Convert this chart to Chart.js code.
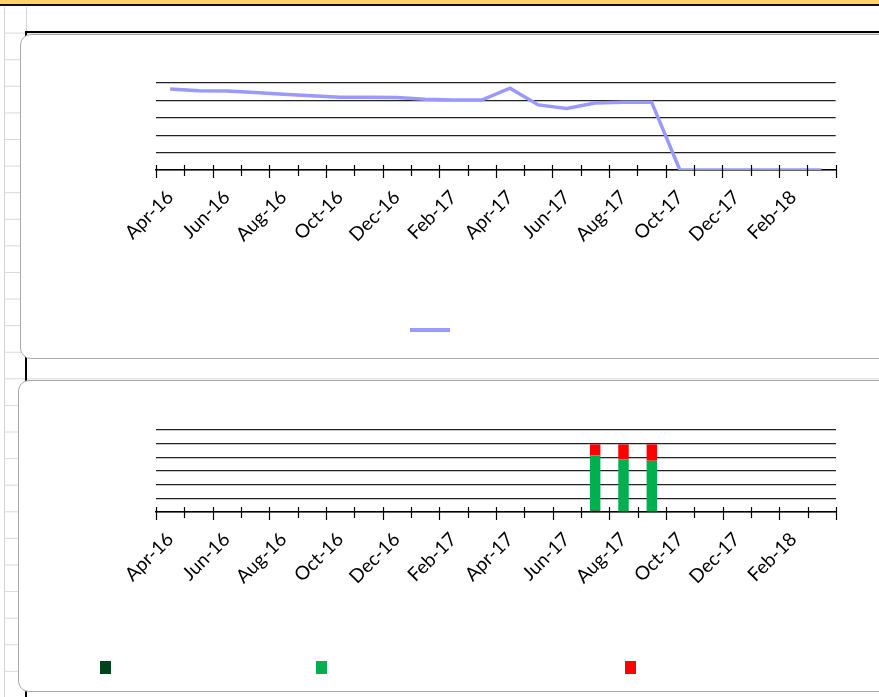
<!DOCTYPE html>
<html>
<head>
<meta charset="utf-8">
<script src="https://cdn.jsdelivr.net/npm/chart.js@4.4.1/dist/chart.umd.min.js"></script>
<style>
html, body { margin: 0; padding: 0; width: 879px; height: 697px; overflow: hidden; background: #fff; }
#topbar { position: absolute; left: 0; top: 0; width: 879px; height: 4px; background: #fcd468; border-bottom: 2px solid #111; }
#sheet { position: absolute; left: 4px; top: 7px; width: 875px; height: 690px; border-left: 1px solid #d4d4d4;
  background-image: linear-gradient(to bottom, transparent 25.6px, #d9d9d9 25.6px);
  background-size: 100% 26.6px; }
#colline { position: absolute; left: 26px; top: 7px; height: 26px; border-left: 1px solid #d4d4d4; }
#range { position: absolute; left: 25px; top: 31px; width: 900px; height: 700px; border-left: 2px solid #000; border-top: 2px solid #000; }
.box { position: absolute; background: #fff; border: 1px solid #a9a9a9; border-radius: 11px; }
#boxTop { left: 20px; top: 34px; width: 900px; height: 323px; }
#boxBottom { left: 18px; top: 380px; width: 900px; height: 310px; }
canvas { position: absolute; }
#chartTop { left: 20px; top: 34px; }
#chartBottom { left: 18px; top: 380px; }
.swatch { position: absolute; top: 661px; width: 11px; height: 13px; }
</style>
</head>
<body>
<div id="topbar"></div>
<div id="sheet"></div>
<div id="colline"></div>
<div id="range"></div>
<div class="box" id="boxTop"></div>
<div class="box" id="boxBottom"></div>
<canvas id="chartTop" width="834" height="324"></canvas>
<canvas id="chartBottom" width="861" height="311"></canvas>
<div id="legendBottom"></div>
<script>
// ---------- data ----------
const months = [
    'Apr-16', 'May-16', 'Jun-16', 'Jul-16', 'Aug-16', 'Sep-16', 'Oct-16', 'Nov-16',
    'Dec-16', 'Jan-17', 'Feb-17', 'Mar-17', 'Apr-17', 'May-17', 'Jun-17', 'Jul-17',
    'Aug-17', 'Sep-17', 'Oct-17', 'Nov-17', 'Dec-17', 'Jan-18', 'Feb-18', 'Mar-18'
];

const lineValues = [
    4.66, 4.56, 4.54, 4.46, 4.35, 4.27, 4.18, 4.18, 4.16, 4.06, 4.02, 4.02,
    4.70, 3.74, 3.54, 3.85, 3.89, 3.90, 0, 0, 0, 0, 0, 0
];

const darkGreenValues = [null, null, null, null, null, null, null, null, null, null, null, null,
    null, null, null, 0.12, null, null, null, null, null, null, null, null];
const greenValues = [null, null, null, null, null, null, null, null, null, null, null, null,
    null, null, null, 4.03, 3.85, 3.75, null, null, null, null, null, null];
const redValues = [null, null, null, null, null, null, null, null, null, null, null, null,
    null, null, null, 0.80, 1.10, 1.20, null, null, null, null, null, null];

const lineColor = '#9999ff';
const barColors = ['#00441b', '#00b050', '#ff0000'];

// where the bottom legend entries sit on the page
const legendSlots = [100, 316, 625];

// =================== helpers ===================
// tick marks crossing the category axis, like the Excel ones
const crossTicks = {
    id: 'crossTicks',
    afterDraw(chart) {
        const sx = chart.scales.x;
        const ctx = chart.ctx;
        const n = sx.ticks.length;
        const step = (sx.right - sx.left) / n;
        const y0 = sx.top;
        ctx.save();
        ctx.strokeStyle = '#000';
        ctx.lineWidth = 1.2;
        for (let i = 0; i <= n; i++) {
            const px = Math.round(sx.left + i * step) + 0.5;
            ctx.beginPath();
            ctx.moveTo(px, y0 - 5);
            ctx.lineTo(px, y0 + (i % 2 ? 6 : 8));
            ctx.stroke();
        }
        ctx.restore();
    }
};

function xScale(height) {
    return {
        offset: true,
        grid: { display: false, drawTicks: false },
        border: { display: true, color: '#000', width: 1.5 },
        ticks: {
            autoSkip: false,
            maxRotation: 45,
            minRotation: 45,
            padding: 16,
            color: '#000',
            font: { family: 'Lato', size: 19 },
            callback: function(value, index) {
                return index % 2 === 0 ? months[index] : '';
            }
        },
        afterFit: function(scale) { scale.height = height; }
    };
}

function yScale(max, width) {
    return {
        min: 0,
        max: max,
        ticks: { display: false, stepSize: 1 },
        grid: { color: '#222', lineWidth: 1.2, drawTicks: false },
        border: { display: false },
        afterFit: function(scale) { scale.width = width; }
    };
}

// =================== top chart ===================
new Chart(document.getElementById('chartTop'), {
    type: 'line',
    data: {
        labels: months,
        datasets: [{
            label: '',
            data: lineValues,
            borderColor: lineColor,
            backgroundColor: lineColor,
            borderWidth: 3.5,
            pointRadius: 0,
            tension: 0
        }]
    },
    options: {
        responsive: false,
        animation: false,
        layout: { padding: { left: 10, right: 18, top: 49, bottom: 12 } },
        plugins: {
            legend: {
                position: 'bottom',
                labels: {
                    boxWidth: 40,
                    boxHeight: 4,
                    font: { size: 12 },
                    generateLabels: function(chart) {
                        return Chart.defaults.plugins.legend.labels.generateLabels(chart)
                            .map(item => Object.assign(item, { lineWidth: 0 }));
                    }
                }
            },
            tooltip: { enabled: false }
        },
        scales: {
            x: xScale(144),
            y: yScale(5, 126)
        }
    },
    plugins: [crossTicks]
});

// =================== bottom chart ===================
const bottomChart = new Chart(document.getElementById('chartBottom'), {
    type: 'bar',
    data: {
        labels: months,
        datasets: [
            { label: '', data: darkGreenValues, backgroundColor: barColors[0] },
            { label: '', data: greenValues, backgroundColor: barColors[1] },
            { label: '', data: redValues, backgroundColor: barColors[2] }
        ]
    },
    options: {
        responsive: false,
        animation: false,
        barPercentage: 0.37,
        categoryPercentage: 1,
        layout: { padding: { left: 0, right: 43, top: 50, bottom: 79 } },
        plugins: {
            legend: { display: false },
            tooltip: { enabled: false }
        },
        scales: {
            x: Object.assign(xScale(100), { stacked: true }),
            y: Object.assign(yScale(6, 138), { stacked: true })
        }
    },
    plugins: [crossTicks]
});

// legend for the bottom chart (entries without names)
const legendBox = document.getElementById('legendBottom');
Chart.defaults.plugins.legend.labels.generateLabels(bottomChart).forEach((item, i) => {
    const sw = document.createElement('span');
    sw.className = 'swatch';
    sw.style.left = legendSlots[i] + 'px';
    sw.style.background = item.fillStyle;
    legendBox.appendChild(sw);
});
</script>
</body>
</html>
